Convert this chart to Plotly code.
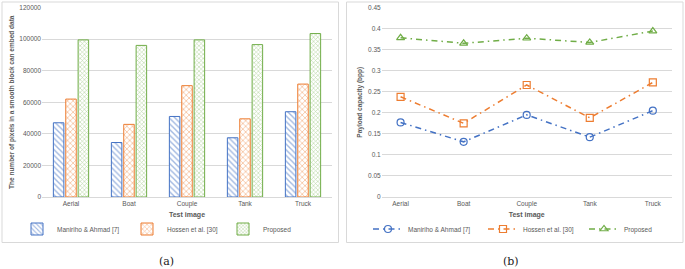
import plotly.graph_objects as go

categories = ["Aerial", "Boat", "Couple", "Tank", "Truck"]
series_names = ["Maniriho & Ahmad [7]", "Hossen et al. [30]", "Proposed"]
pixels_maniriho = [47000, 34500, 51000, 37500, 54000]
pixels_hossen = [62000, 46000, 70500, 49500, 71500]
pixels_proposed = [99500, 96000, 99500, 96500, 103500]
bpp_maniriho = [0.177, 0.131, 0.195, 0.142, 0.205]
bpp_hossen = [0.238, 0.175, 0.266, 0.188, 0.272]
bpp_proposed = [0.378, 0.365, 0.377, 0.367, 0.394]
left_ticks = [0, 20000, 40000, 60000, 80000, 100000, 120000]
left_tick_labels = ["0", "20000", "40000", "60000", "80000", "100000", "120000"]
right_ticks = [0, 0.05, 0.1, 0.15, 0.2, 0.25, 0.3, 0.35, 0.4, 0.45]
right_tick_labels = ["0", "0.05", "0.1", "0.15", "0.2", "0.25", "0.3", "0.35", "0.4", "0.45"]

W, H = 685, 269
colors = ["#4472C4", "#ED7D31", "#70AD47"]
patterns = ["\\", "x", "x"]
pat_size = [4, 4, 3]
TXT = "#595959"
FONT = "Liberation Sans"

def px(x):
    return x / W

def py(y):
    return (H - y) / H

fig = go.Figure()

bar_vals = [pixels_maniriho, pixels_hossen, pixels_proposed]
line_vals = [bpp_maniriho, bpp_hossen, bpp_proposed]
symbols = ["circle-open", "square-open", "triangle-up-open"]

for i in range(3):
    fig.add_trace(go.Bar(
        x=categories, y=bar_vals[i], name=series_names[i],
        marker=dict(color="white", line=dict(color=colors[i], width=1),
                    pattern=dict(shape=patterns[i], fgcolor=colors[i], bgcolor="white",
                                 size=pat_size[i], solidity=0.35)),
        xaxis="x", yaxis="y", legend="legend" if i == 0 else f"legend{i+1}",
    ))

for i in range(3):
    fig.add_trace(go.Scatter(
        x=categories, y=line_vals[i], name=series_names[i], mode="lines+markers",
        line=dict(color=colors[i], width=1.5, dash="6px,4px,1.5px,4px"),
        marker=dict(symbol=symbols[i], size=7, color=colors[i], line=dict(width=1.2)),
        xaxis="x2", yaxis="y2", legend=f"legend{i+4}",
    ))

ydom = [py(197), py(7.5)]
axis_common = dict(zeroline=False, ticks="", automargin=False,
                   tickfont=dict(family=FONT, size=6.5, color=TXT))
fig.update_layout(
    width=W, height=H, margin=dict(l=0, r=0, t=0, b=0),
    paper_bgcolor="white", plot_bgcolor="white",
    showlegend=True,
    barmode="group", bargap=0.36, bargroupgap=0.15,
    xaxis=dict(domain=[px(42), px(332)], anchor="y", showgrid=False,
               showline=True, linecolor="#D9D9D9", linewidth=1,
               title=dict(text="<b>Test image</b>", font=dict(family=FONT, size=7, color=TXT), standoff=5),
               **axis_common),
    yaxis=dict(domain=ydom, anchor="x", range=[0, 120000], tickvals=left_ticks,
               ticktext=left_tick_labels,
               showline=False, showgrid=True, gridcolor="#D9D9D9", gridwidth=1,
               title=dict(text="<b>The number of pixels in a smooth block can embed data</b>",
                          font=dict(family=FONT, size=6.5, color=TXT), standoff=4),
               **axis_common),
    xaxis2=dict(domain=[px(381.7), px(671.7)], anchor="y2", showgrid=False,
                showline=True, linecolor="#D9D9D9", linewidth=1,
                title=dict(text="<b>Test image</b>", font=dict(family=FONT, size=7, color=TXT), standoff=5),
                **axis_common),
    yaxis2=dict(domain=ydom, anchor="x2", range=[0, 0.45], tickvals=right_ticks,
                ticktext=right_tick_labels,
                showline=False, showgrid=True, gridcolor="#D9D9D9", gridwidth=1,
                title=dict(text="<b>Payload capacity (bpp)</b>",
                           font=dict(family=FONT, size=6.5, color=TXT), standoff=4),
                **axis_common),
)

leg_font = dict(family=FONT, size=6.5, color=TXT)
leg_x = [17, 127, 223, 368, 483, 584]
for k in range(6):
    name = "legend" if k == 0 else f"legend{k+1}"
    fig.update_layout(**{name: dict(x=px(leg_x[k]), y=py(229), xanchor="left", yanchor="middle",
                                    orientation="h", font=leg_font, bgcolor="rgba(0,0,0,0)",
                                    itemwidth=30, tracegroupgap=0)})

# panel frames
for x0, x1 in [(2, 338.5), (346.5, 683)]:
    fig.add_shape(type="rect", xref="paper", yref="paper",
                  x0=px(x0), x1=px(x1), y0=py(242.5), y1=py(2),
                  line=dict(color="#D9D9D9", width=1), fillcolor="rgba(0,0,0,0)", layer="below")

for txt, x in [("(a)", 166), ("(b)", 511)]:
    fig.add_annotation(text=txt, x=px(x), y=py(261), xref="paper", yref="paper",
                       showarrow=False, font=dict(family="DejaVu Serif", size=11, color="#222222"),
                       xanchor="center", yanchor="middle")

fig.write_html("out.html", config={"displayModeBar": False},
               post_script="document.body.style.margin='0';document.body.style.overflow='hidden';")
